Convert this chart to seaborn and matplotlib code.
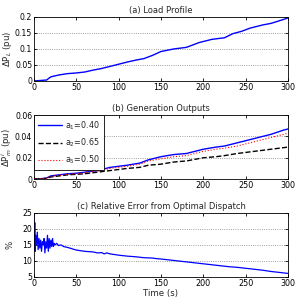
import seaborn as sns
import matplotlib
matplotlib.use("Agg")
import matplotlib.pyplot as plt
import numpy as np

# Donnees
t_load = [0, 5, 15, 20, 30, 40, 50, 60, 70, 80, 95, 110, 120, 130, 140, 150, 165,
          180, 195, 210, 225, 235, 245, 255, 270, 280, 292, 300]
p_load = [0, 0.001, 0.003, 0.013, 0.019, 0.023, 0.025, 0.028, 0.034, 0.039, 0.049,
          0.059, 0.065, 0.07, 0.08, 0.092, 0.1, 0.105, 0.12, 0.13, 0.135, 0.148,
          0.155, 0.165, 0.175, 0.18, 0.19, 0.197]

t_gen = [0, 10, 15, 20, 30, 40, 50, 60, 75, 90, 110, 125, 135, 150, 165, 180, 200,
         215, 225, 240, 260, 280, 295, 300]
p_a1 = [0, 0.0005, 0.001, 0.003, 0.004, 0.005, 0.0055, 0.0065, 0.008, 0.011, 0.013,
        0.015, 0.018, 0.021, 0.023, 0.024, 0.028, 0.030, 0.031, 0.034, 0.038,
        0.042, 0.046, 0.047]
p_a2 = [0, 0.0003, 0.0008, 0.002, 0.003, 0.004, 0.0045, 0.005, 0.0065, 0.008, 0.010,
        0.011, 0.013, 0.014, 0.016, 0.017, 0.020, 0.021, 0.022, 0.024, 0.026,
        0.028, 0.0295, 0.030]
p_a5 = [0, 0.0004, 0.0009, 0.0025, 0.0035, 0.0045, 0.005, 0.006, 0.0075, 0.010, 0.012,
        0.014, 0.017, 0.019, 0.021, 0.022, 0.026, 0.028, 0.029, 0.031, 0.035,
        0.039, 0.042, 0.043]
labels = ['a$_1$=0.40', 'a$_2$=0.65', 'a$_5$=0.50']

t_err = [0, 0.5, 1, 1.5, 2, 3, 4, 5, 6, 7, 8, 9, 10, 11, 12, 13, 14, 15, 16, 17,
         18, 19, 20, 21, 22, 23, 24, 25, 27, 29, 32, 35, 40, 45, 50, 55, 60, 65,
         70, 75, 80, 83, 86, 90, 95, 100, 110, 120, 130, 140, 145, 150, 160, 170,
         180, 190, 200, 210, 220, 230, 240, 250, 260, 270, 280, 290, 300]
err = [25, 14, 22, 13, 18, 15, 19, 13.5, 17, 14, 16.5, 13, 16, 15, 17, 12.5, 16,
       14, 18, 13, 17, 14, 16.5, 14.5, 17, 14.5, 15.5, 15, 15.5, 14.8, 15, 14.5,
       14.2, 13.8, 13.4, 13.2, 13, 12.9, 12.8, 12.5, 12.6, 12.2, 12.5, 12.2, 12,
       11.8, 11.5, 11.3, 11, 10.9, 10.7, 10.6, 10.3, 10, 9.7, 9.4, 9.1, 8.8, 8.5,
       8.2, 8, 7.7, 7.4, 7.1, 6.7, 6.4, 6.1]

sns.set_theme(style="ticks")
plt.rcParams['font.family'] = ['DejaVu Sans']
plt.rcParams['font.size'] = 6
plt.rcParams['xtick.direction'] = 'in'
plt.rcParams['ytick.direction'] = 'in'
plt.rcParams['xtick.labelsize'] = 5.8
plt.rcParams['ytick.labelsize'] = 5.6

fig = plt.figure(figsize=(3.0, 3.01), dpi=100)
fig.patch.set_facecolor('white')
ax1 = fig.add_axes([0.113, 0.731, 0.847, 0.2126])
ax2 = fig.add_axes([0.113, 0.405, 0.847, 0.2126])
ax3 = fig.add_axes([0.113, 0.080, 0.847, 0.2126])

# (a) profil de charge
sns.lineplot(x=t_load, y=p_load, ax=ax1, color='blue', linewidth=1.0)
ax1.set_ylim(0, 0.2)
ax1.set_yticks([0, 0.05, 0.1, 0.15, 0.2])
ax1.set_yticklabels(['0', '0.05', '0.1', '0.15', '0.2'])
ax1.set_ylabel('ΔP$_L$ (pu)', fontsize=6.2)
ax1.set_title('(a) Load Profile', fontsize=6, pad=3)

# (b) sorties des generateurs
sns.lineplot(x=t_gen, y=p_a1, ax=ax2, color='blue', linewidth=1.0, label=labels[0])
sns.lineplot(x=t_gen, y=p_a2, ax=ax2, color='black', linewidth=1.0,
             linestyle='--', label=labels[1])
sns.lineplot(x=t_gen, y=p_a5, ax=ax2, color='red', linewidth=0.8,
             linestyle=':', label=labels[2])
ax2.set_ylim(0, 0.06)
ax2.set_yticks([0, 0.02, 0.04, 0.06])
ax2.set_yticklabels(['0', '0.02', '0.04', '0.06'])
ax2.set_ylabel('ΔP$^i_m$ (pu)', fontsize=6.2)
ax2.set_title('(b) Generation Outputs', fontsize=6, pad=3)
leg = ax2.legend(loc='upper left', borderaxespad=0, fontsize=5.8, fancybox=False,
                 framealpha=1, edgecolor='black', handlelength=3.0,
                 labelspacing=0.6, borderpad=0.5, handletextpad=0.4)
leg.get_frame().set_linewidth(0.6)

# (c) erreur relative
sns.lineplot(x=t_err, y=err, ax=ax3, color='blue', linewidth=0.9)
ax3.set_ylim(5, 25)
ax3.set_yticks([5, 10, 15, 20, 25])
ax3.set_ylabel('%', fontsize=6.2)
ax3.set_xlabel('Time (s)', fontsize=6.2, labelpad=1)
ax3.set_title('(c) Relative Error from Optimal Dispatch', fontsize=6, pad=3)

for ax in [ax1, ax2, ax3]:
    ax.set_xlim(0, 300)
    ax.set_xticks([0, 50, 100, 150, 200, 250, 300])
    ax.yaxis.set_label_coords(-0.077, 0.5)
    ax.grid(axis='y', linestyle=':', color='gray', linewidth=0.6)
    ax.grid(axis='x', visible=False)
    ax.set_axisbelow(True)
    for s in ax.spines.values():
        s.set_color('black')
        s.set_linewidth(0.6)
    ax.tick_params(length=2.5, width=0.6, pad=1.2, colors='black',
                   top=True, right=True)

fig.savefig('out.png', dpi=100, facecolor='white')
